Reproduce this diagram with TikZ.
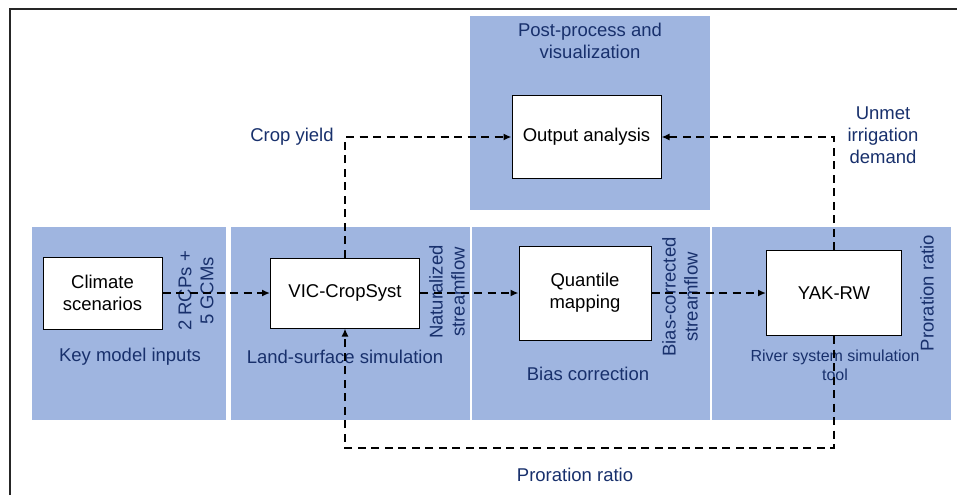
\documentclass[tikz,border=0pt]{standalone}
\usepackage{fontspec}
\setmainfont{Liberation Sans}
\usetikzlibrary{arrows.meta}
\definecolor{panelblue}{RGB}{159,181,224}
\definecolor{labelnavy}{RGB}{24,48,108}

\begin{document}
\begin{tikzpicture}
  [x=1pt,y=-1pt,
   box/.style={draw=black,line width=1pt,fill=white,inner sep=0pt,align=center,font=\fontsize{18.5}{22}\selectfont},
   lbl/.style={text=labelnavy,inner sep=0pt,align=center,font=\fontsize{18.5}{22}\selectfont},
   flow/.style={line width=2pt,dash pattern=on 8pt off 5.5pt,-{Latex[length=8pt,width=7pt]}}]

  \useasboundingbox (0,0) rectangle (957,495);
  \draw[line width=1.5pt,black!85] (10,495) -- (10,9) -- (957,9);

  \fill[panelblue] (470,16) rectangle (710,210);
  \fill[panelblue] (32,227) rectangle (226,420);
  \fill[panelblue] (231,227) rectangle (470,420);
  \fill[panelblue] (472,227) rectangle (710,420);
  \fill[panelblue] (712,227) rectangle (951,420);

  \node[box,minimum width=119pt,minimum height=72pt] (clim) at (102.5,293) {Climate\\scenarios};
  \node[box,minimum width=149pt,minimum height=70pt] (vic) at (345,293) {VIC-CropSyst};
  \node[box,minimum width=132pt,minimum height=94pt] (quant) at (585,293) {Quantile\\mapping};
  \node[box,minimum width=135pt,minimum height=85pt] (yak) at (834,293) {YAK-RW};
  \node[box,minimum width=149pt,minimum height=83pt] (outp) at (586.5,137) {Output analysis};
  \coordinate (lowturn) at (590,448);

  \node[lbl] (post) at (590,41) {Post-process and\\visualization};
  \node[lbl] (crop) at (292,137) {Crop yield};
  \node[lbl] (unmet) at (883,135) {Unmet\\irrigation\\demand};
  \node[lbl] (keyin) at (130,357) {Key model inputs};
  \node[lbl] (land) at (345,357) {Land-surface simulation};
  \node[lbl] (bias) at (588,374) {Bias correction};
  \node[lbl,font=\fontsize{16}{19}\selectfont] (river) at (835,365.5) {River system simulation\\tool};
  \node[lbl,rotate=90] (rcp) at (196,291) {2 RCPs +\\5 GCMs};
  \node[lbl,rotate=90] (nat) at (447,292) {Naturalized\\streamflow};
  \node[lbl,rotate=90] (bcs) at (680,297) {Bias-corrected\\streamflow};
  \node[lbl,rotate=90] (prorv) at (927,293) {Proration ratio};
  \node[lbl] (prorh) at (575,475) {Proration ratio};

  \foreach \from/\to in {clim/vic,vic/quant,quant/yak}
    \draw[flow] (\from) -- (\to);
  \draw[flow] (vic.north) |- (outp.west);
  \draw[flow] (yak.north) |- (outp.east);
  \draw[flow] (yak.south) |- (lowturn) -| (vic.south);
\end{tikzpicture}
\end{document}
